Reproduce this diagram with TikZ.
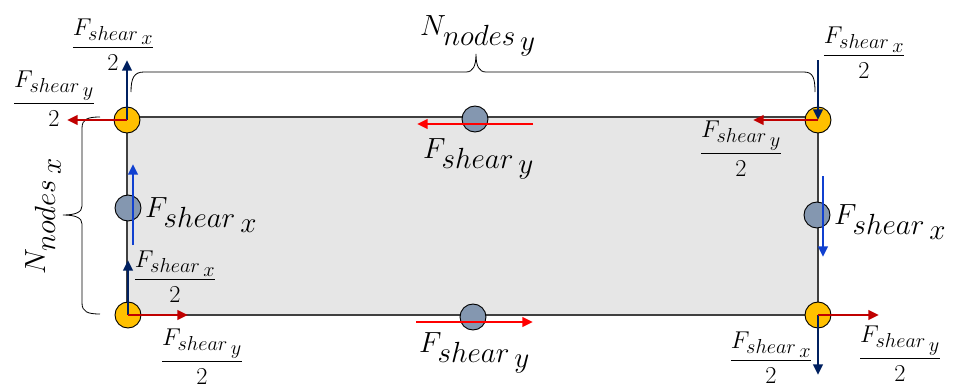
\documentclass[tikz,border=0pt]{standalone}
\usepackage{amsmath}
\usetikzlibrary{arrows.meta}

\DeclareMathSizes{32}{32}{26}{20}
\DeclareMathSizes{21}{21}{17}{13}

\definecolor{gold}{HTML}{FFC000}
\definecolor{slate}{HTML}{8497B0}
\definecolor{plategray}{HTML}{E6E6E6}
\definecolor{navy}{HTML}{002060}
\definecolor{darkred}{HTML}{C00000}
\definecolor{brightred}{HTML}{FF0000}
\definecolor{midblue}{HTML}{1040D0}

\newcommand{\Fsh}[1]{F_{shear\,\raisebox{-0.35ex}{$\scriptstyle #1$}}}
\newcommand{\Nnd}[1]{N_{nodes\,\raisebox{-0.35ex}{$\scriptstyle #1$}}}

\tikzset{
  cnode/.style={circle,draw=black,line width=0.8pt,fill=gold,minimum size=0.78cm,inner sep=0pt},
  mnode/.style={circle,draw=black,line width=0.8pt,fill=slate,minimum size=0.78cm,inner sep=0pt},
  force/.style={line width=2.4pt,-{Triangle[length=9pt,width=8pt]}},
  halfx/.style={force,navy},
  halfy/.style={force,darkred},
  fullx/.style={force,midblue},
  fully/.style={force,brightred},
  biglbl/.style={font=\fontsize{32}{38}\selectfont,inner sep=0pt},
  fraclbl/.style={font=\fontsize{21}{25}\selectfont,inner sep=0pt,anchor=base},
  curly/.style={line width=0.7pt}
}

\begin{document}
\begin{tikzpicture}[x=0.03cm,y=-0.03cm]
\useasboundingbox (0,0) rectangle (953,389);

% plate
\draw[fill=plategray,draw=black!75,line width=0.9pt] (127,117) rectangle (818,315);

% braces
\draw[curly] (131,92) .. controls (131,78) and (134,72) .. (144,72) -- (466,72)
  .. controls (473,72) and (476,66) .. (476,54)
  .. controls (476,66) and (479,72) .. (486,72) -- (804,72)
  .. controls (813,72) and (815,78) .. (815,92);
\draw[curly] (100,117) .. controls (88,117) and (82,119) .. (82,128) -- (82,206)
  .. controls (82,212) and (76,215) .. (63,215)
  .. controls (76,215) and (82,218) .. (82,224) -- (82,303)
  .. controls (82,312) and (88,314) .. (100,314);
\node[biglbl,anchor=base west] (ny) at (420,35) {$\Nnd{y}$};
\node[biglbl,anchor=base west,rotate=90] (nx) at (45,275) {$\Nnd{x}$};

% nodes
\node[cnode] (tl) at (127,120) {};
\node[cnode] (tr) at (818,120) {};
\node[cnode] (bl) at (128,315) {};
\node[cnode] (br) at (818,315) {};
\node[mnode] (tm) at (475,119) {};
\node[mnode] (bm) at (473,317) {};
\node[mnode] (lm) at (128,208) {};
\node[mnode] (rm) at (817,215) {};

% corner forces
\coordinate (tlx) at (127,60);
\coordinate (tly) at (67,120);
\coordinate (trx) at (818,60);
\coordinate (try) at (753,120);
\coordinate (blx) at (128,260);
\coordinate (bly) at (188,315);
\coordinate (brx) at (818,375);
\coordinate (bry) at (879,315);
\draw[halfx] (tl.center) -- (tlx);
\draw[halfy] (tl.center) -- (tly);
\draw[halfx] (trx) -- (tr.center);
\draw[halfy] (tr.center) -- (try);
\draw[halfx] (bl.center) -- (blx);
\draw[halfy] (bl.center) -- (bly);
\draw[halfx] (br.center) -- (brx);
\draw[halfy] (br.center) -- (bry);

% edge forces
\coordinate (tma) at (533,124);
\coordinate (tmb) at (417,124);
\coordinate (bma) at (416,322);
\coordinate (bmb) at (533,322);
\coordinate (lma) at (133,245);
\coordinate (lmb) at (133,164);
\coordinate (rma) at (823,176);
\coordinate (rmb) at (823,257);
\draw[fully] (tma) -- (tmb);
\draw[fully] (bma) -- (bmb);
\draw[fullx] (lma) -- (lmb);
\draw[fullx] (rma) -- (rmb);

% labels
\node[biglbl,anchor=base west] (ftm) at (423,158) {$\Fsh{y}$};
\node[biglbl,anchor=base west] (fbm) at (419,352) {$\Fsh{y}$};
\node[biglbl,anchor=base west] (flm) at (145,217) {$\Fsh{x}$};
\node[biglbl,anchor=base west] (frm) at (834,224) {$\Fsh{x}$};

\node[fraclbl] (htlx) at (113,54) {$\dfrac{\Fsh{x}}{2}$};
\node[fraclbl] (htly) at (54,110) {$\dfrac{\Fsh{y}}{2}$};
\node[fraclbl] (htrx) at (864,62) {$\dfrac{\Fsh{x}}{2}$};
\node[fraclbl] (htry) at (741,160) {$\dfrac{\Fsh{y}}{2}$};
\node[fraclbl] (hblx) at (175,286) {$\dfrac{\Fsh{x}}{2}$};
\node[fraclbl] (hbly) at (202,368) {$\dfrac{\Fsh{y}}{2}$};
\node[fraclbl] (hbrx) at (771,367) {$\dfrac{\Fsh{x}}{2}$};
\node[fraclbl] (hbry) at (900,365) {$\dfrac{\Fsh{y}}{2}$};
\end{tikzpicture}
\end{document}
